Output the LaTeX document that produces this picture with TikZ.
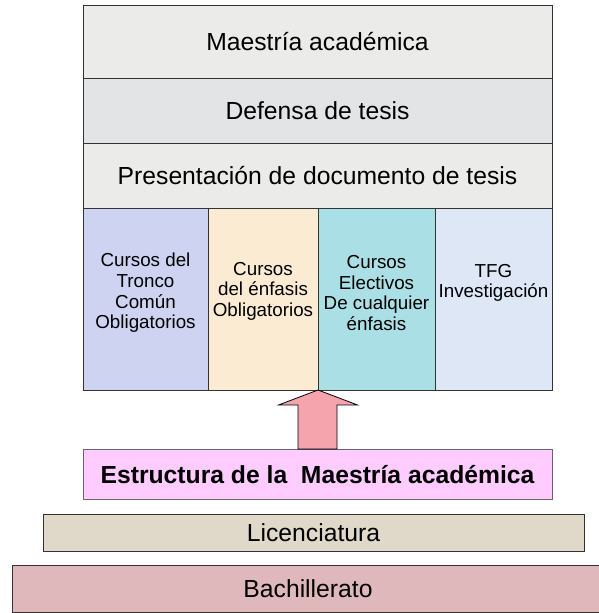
\documentclass[tikz,border=0pt]{standalone}
\usepackage{fontspec}
\setmainfont{Liberation Sans}
\usetikzlibrary{positioning}
\definecolor{granite}{HTML}{EBEBEA}
\definecolor{marble}{HTML}{E2E4E6}
\definecolor{tronco}{HTML}{CDD3F1}
\definecolor{enfasis}{HTML}{FBEBD3}
\definecolor{electivo}{HTML}{ABDFE6}
\definecolor{tfg}{HTML}{DDE7F6}
\definecolor{estructura}{HTML}{FFCCFF}
\definecolor{flecha}{HTML}{F5A3AD}
\definecolor{licen}{HTML}{E0D9CA}
\definecolor{bachi}{HTML}{DEB8BA}
\tikzset{
	capa/.style={draw=black!80,line width=.8pt,inner sep=0pt,outer sep=0pt,font=\fontsize{24.7}{29}\selectfont},
	columna/.style={draw=black!80,line width=.8pt,minimum height=182pt,inner sep=0pt,outer sep=0pt},
	textocol/.style={align=center,font=\fontsize{18.8}{20.6}\selectfont}
}
\begin{document}
\begin{tikzpicture}[x=1pt,y=1pt]
		\clip (0,0) rectangle (599,613);
		\node at(83,608)[capa,anchor=north west,minimum width=469pt,minimum height=73pt,fill=granite](m){Maestría académica};
		\node at(m.south)[capa,anchor=north,minimum width=469pt,minimum height=65pt,fill=marble](d){Defensa de tesis};
		\node at(d.south)[capa,anchor=north,minimum width=469pt,minimum height=65pt,fill=granite](p){Presentación de documento de tesis};
		\foreach \t/\x/\w/\c/\s[count=\i] in {
				{Cursos del\\Tronco\\Común\\Obligatorios}/0/125/tronco/6,
				{Cursos\\del énfasis\\Obligatorios}/125/110/enfasis/8,
				{Cursos\\Electivos\\De cualquier\\énfasis}/235/117/electivo/6,
				{TFG\\Investigación}/352/117/tfg/16
			}
		\node at([xshift=\x pt]p.south west)[columna,anchor=north west,minimum width=\w pt,fill=\c](c\i){}
		node at([yshift=\s pt]c\i.center)[textocol]{\t};
		\node at(83,164)[capa,anchor=north west,draw=black!60,minimum width=469pt,minimum height=50pt,fill=estructura,text depth=-5pt](e){\bfseries Estructura de la~ Maestría académica};
		\draw[line width=.8pt,fill=flecha] ([xshift=-19.5pt]e.north) |- ([xshift=-39.5pt,yshift=-15pt]c3.south west) -- (c3.south west) -- ([xshift=39.5pt,yshift=-15pt]c3.south west) -| ([xshift=19.5pt]e.north) -- cycle;
		\node at(43,99)[capa,anchor=north west,minimum width=541pt,minimum height=37pt,fill=licen](l){Licenciatura};
		\node at(12,48)[capa,anchor=north west,minimum width=592pt,minimum height=47pt,fill=bachi](b){Bachillerato};
	\end{tikzpicture}
\end{document}
